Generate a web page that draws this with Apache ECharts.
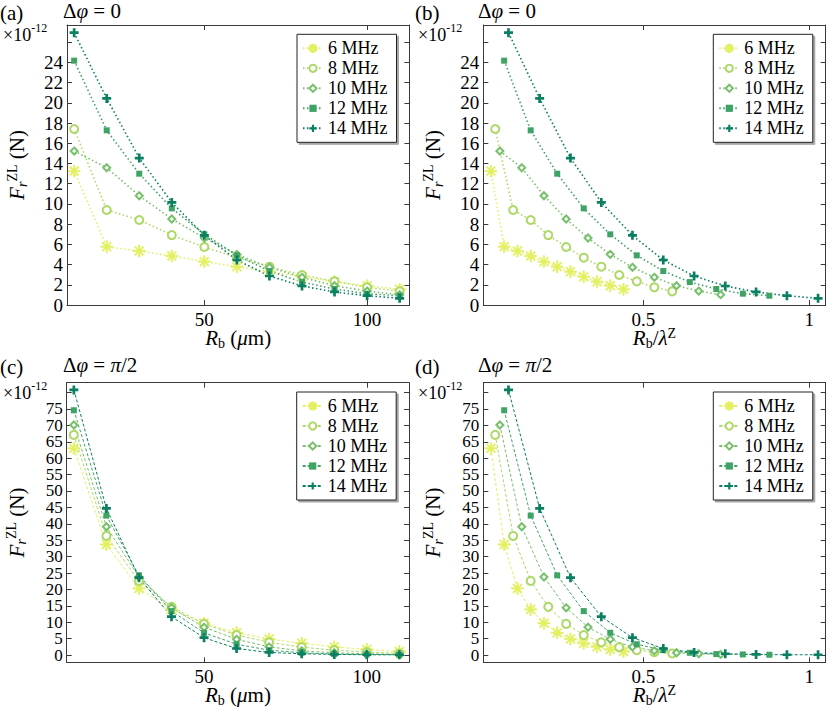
<!DOCTYPE html>
<html>
<head>
<meta charset="utf-8">
<script src="https://cdn.jsdelivr.net/npm/echarts@6/dist/echarts.min.js"></script>
<style>
html, body { margin:0; padding:0; background:#fff; }
.panel { position:absolute; width:415px; height:354px; }
</style>
</head>
<body>
<div id="pa" class="panel" style="left:0;top:0"></div>
<div id="pb" class="panel" style="left:415px;top:0"></div>
<div id="pc" class="panel" style="left:0;top:354px"></div>
<div id="pd" class="panel" style="left:415px;top:354px"></div>
<script>

// ==============================
// 資料
// ==============================

const radii = [10, 20, 30, 40, 50, 60, 70, 80, 90, 100, 110];

const freqNames = ['6 MHz', '8 MHz', '10 MHz', '12 MHz', '14 MHz'];

// Rb / λ for each frequency
const ratio6  = [0.040, 0.080, 0.120, 0.160, 0.200, 0.240, 0.280, 0.320, 0.360, 0.400, 0.440];
const ratio8  = [0.053, 0.107, 0.160, 0.213, 0.267, 0.320, 0.373, 0.427, 0.480, 0.533, 0.587];
const ratio10 = [0.067, 0.133, 0.200, 0.267, 0.333, 0.400, 0.467, 0.533, 0.600, 0.667, 0.733];
const ratio12 = [0.080, 0.160, 0.240, 0.320, 0.400, 0.480, 0.560, 0.640, 0.720, 0.800, 0.880];
const ratio14 = [0.093, 0.187, 0.280, 0.373, 0.467, 0.560, 0.653, 0.747, 0.840, 0.933, 1.027];

// Δφ = 0 (×1e-12 N)
const zero6  = [13.25, 5.77, 5.34, 4.85, 4.29, 3.79, 3.30, 2.80, 2.31, 1.91, 1.55];
const zero8  = [17.41, 9.40, 8.41, 6.92, 5.74, 4.68, 3.79, 2.97, 2.34, 1.75, 1.35];
const zero10 = [15.23, 13.58, 10.81, 8.51, 6.63, 5.01, 3.73, 2.74, 1.91, 1.38, 1.02];
const zero12 = [24.17, 17.28, 12.99, 9.56, 6.99, 4.91, 3.36, 2.27, 1.58, 1.12, 0.92];
const zero14 = [26.94, 20.44, 14.54, 10.15, 6.89, 4.45, 2.87, 1.88, 1.29, 0.92, 0.66];

// Δφ = π/2 (×1e-12 N)
const half6  = [63.0, 33.7, 20.3, 13.9, 9.7, 6.8, 4.9, 3.6, 2.5, 1.7, 1.1];
const half8  = [67.1, 36.3, 22.6, 14.7, 9.5, 6.1, 3.9, 2.4, 1.5, 0.9, 0.5];
const half10 = [70.1, 39.1, 23.8, 14.4, 8.5, 4.8, 2.5, 1.3, 0.7, 0.4, 0.2];
const half12 = [74.6, 42.5, 24.3, 13.4, 6.8, 3.3, 1.5, 0.7, 0.3, 0.2, 0.1];
const half14 = [80.8, 44.7, 23.6, 11.7, 5.3, 2.0, 0.8, 0.4, 0.2, 0.1, 0.1];

// ticks and tick labels (labels split in two sets so none get auto-hidden)
const zeroTicks     = [0, 2, 4, 6, 8, 10, 12, 14, 16, 18, 20, 22, 24, 26];
const zeroLabelsA   = [0, 4, 8, 12, 16, 20, 24];
const zeroLabelsB   = [2, 6, 10, 14, 18, 22];
const halfTicks     = [0, 5, 10, 15, 20, 25, 30, 35, 40, 45, 50, 55, 60, 65, 70, 75, 80];
const halfLabelsA   = [0, 10, 20, 30, 40, 50, 60, 70];
const halfLabelsB   = [5, 15, 25, 35, 45, 55, 65, 75];
const radiusTicks   = [50, 100];
const ratioTicks    = [0.5, 1];


// ==============================
// 樣式
// ==============================

const serif = 'Liberation Serif';

const colors = ['#e2f062', '#aed868', '#78c06c', '#3ea364', '#0a7f62'];

const asterisk =
    'path://M8.9,0h2.2v20h-2.2z M0,8.9h20v2.2h-20z ' +
    'M3.7,2.1L17.9,16.3L16.3,17.9L2.1,3.7z M16.3,2.1L17.9,3.7L3.7,17.9L2.1,16.3z';

const plus = 'path://M7,0h6v7h7v6h-7v7h-6v-7h-7v-6h7z';

const symbols = [asterisk, 'emptyCircle', 'emptyDiamond', 'rect', plus];
const symbolSizes = [12, 8, 7, 6, 9];
const borderWidths = [0.7, 1.2, 1, 0, 0];

const rich = {
    t:   { fontFamily: serif, fontSize: 21, color: '#000', lineHeight: 24 },
    i:   { fontFamily: serif, fontSize: 21, color: '#000', lineHeight: 24, fontStyle: 'italic' },
    sub: { fontFamily: serif, fontSize: 14, color: '#000', lineHeight: 14, verticalAlign: 'bottom' },
    sup: { fontFamily: serif, fontSize: 14, color: '#000', lineHeight: 14, verticalAlign: 'top' },
    sit: { fontFamily: serif, fontSize: 14, color: '#000', lineHeight: 14, verticalAlign: 'bottom', fontStyle: 'italic' }
};


// ==============================
// 面板
// ==============================

renderPanel('pa', {
    tag: '(a)', phase: '{t|Δ}{i|φ}{t| = 0}',
    xs: [radii, radii, radii, radii, radii],
    ys: [zero6, zero8, zero10, zero12, zero14],
    xMin: 7.8, xMax: 113, xTicks: radiusTicks,
    yMin: 0, yMax: 27.7, yTicks: zeroTicks, yLabels: [zeroLabelsA, zeroLabelsB],
    yFont: 19, yLine: 19,
    xName: '{i|R}{sub|b}{t| (}{i|μ}{t|m)}',
    gridLeft: 67, gridTop: 25, gridHeight: 280,
    lineType: [1.5, 2.5], lineWidth: 1.6
});

renderPanel('pb', {
    tag: '(b)', phase: '{t|Δ}{i|φ}{t| = 0}',
    xs: [ratio6, ratio8, ratio10, ratio12, ratio14],
    ys: [zero6, zero8, zero10, zero12, zero14],
    xMin: 0.017, xMax: 1.05, xTicks: ratioTicks,
    yMin: 0, yMax: 27.7, yTicks: zeroTicks, yLabels: [zeroLabelsA, zeroLabelsB],
    yFont: 19, yLine: 19,
    xName: '{i|R}{sub|b}{t|/}{i|λ}{sup|Z}',
    gridLeft: 68.3, gridTop: 25, gridHeight: 280,
    lineType: [1.5, 2.5], lineWidth: 1.6
});

renderPanel('pc', {
    tag: '(c)', phase: '{t|Δ}{i|φ}{t| = }{i|π}{t|/2}',
    xs: [radii, radii, radii, radii, radii],
    ys: [half6, half8, half10, half12, half14],
    xMin: 7.8, xMax: 113, xTicks: radiusTicks,
    yMin: -2.2, yMax: 83, yTicks: halfTicks, yLabels: [halfLabelsA, halfLabelsB],
    yFont: 17, yLine: 15,
    xName: '{i|R}{sub|b}{t| (}{i|μ}{t|m)}',
    gridLeft: 66.7, gridTop: 28.7, gridHeight: 279.6,
    lineType: [3, 2], lineWidth: 1
});

renderPanel('pd', {
    tag: '(d)', phase: '{t|Δ}{i|φ}{t| = }{i|π}{t|/2}',
    xs: [ratio6, ratio8, ratio10, ratio12, ratio14],
    ys: [half6, half8, half10, half12, half14],
    xMin: 0.017, xMax: 1.05, xTicks: ratioTicks,
    yMin: -2.2, yMax: 83, yTicks: halfTicks, yLabels: [halfLabelsA, halfLabelsB],
    yFont: 17, yLine: 15,
    xName: '{i|R}{sub|b}{t|/}{i|λ}{sup|Z}',
    gridLeft: 68.3, gridTop: 28.7, gridHeight: 279.6,
    lineType: [3, 2], lineWidth: 1
});


// ==============================
// 繪圖
// ==============================

function renderPanel(id, cfg){

    const chart = echarts.init(document.getElementById(id), null, { renderer: 'svg' });

    const axisColor = '#3a3a3a';

    const tickFont = { fontFamily: serif, fontSize: 19, color: '#000' };

    const yFont = { fontFamily: serif, fontSize: cfg.yFont, lineHeight: cfg.yLine, color: '#000' };

    const series = freqNames.map((name, i) => ({
        name: name,
        type: 'line',
        data: cfg.xs[i].map((x, j) => [x, cfg.ys[i][j]]),
        symbol: symbols[i],
        symbolSize: symbolSizes[i],
        showAllSymbol: true,
        itemStyle: { color: colors[i], borderColor: colors[i], borderWidth: borderWidths[i] },
        lineStyle: { color: colors[i], width: cfg.lineWidth, type: cfg.lineType },
        emphasis: { disabled: true },
        animation: false
    }));

    const xBase = {
        type: 'value', min: cfg.xMin, max: cfg.xMax,
        axisLine: { show: true, onZero: false, lineStyle: { color: axisColor, width: 1 } },
        axisTick: { show: true, inside: true, length: 5, customValues: cfg.xTicks, lineStyle: { color: axisColor } },
        splitLine: { show: false }
    };

    const yBase = {
        type: 'value', min: cfg.yMin, max: cfg.yMax,
        axisLine: { show: true, onZero: false, lineStyle: { color: axisColor, width: 1 } },
        axisTick: { show: true, inside: true, length: 5, customValues: cfg.yTicks, lineStyle: { color: axisColor } },
        splitLine: { show: false }
    };

    // second left axis only carries the other half of the tick labels
    const yLabelOnly = {
        type: 'value', min: cfg.yMin, max: cfg.yMax, position: 'left',
        axisLine: { show: false, onZero: false },
        axisTick: { show: false },
        splitLine: { show: false },
        axisLabel: Object.assign({
            customValues: cfg.yLabels[1], margin: 4,
            showMinLabel: true, showMaxLabel: true, hideOverlap: false
        }, yFont)
    };

    chart.setOption({

        backgroundColor: 'transparent',

        animation: false,

        grid: {
            left: cfg.gridLeft, top: cfg.gridTop,
            width: 342.4, height: cfg.gridHeight,
            containLabel: false,
            outerBoundsMode: 'none'
        },

        xAxis: [
            Object.assign({}, xBase, {
                position: 'bottom',
                axisLabel: Object.assign({
                    customValues: cfg.xTicks, margin: 5,
                    showMinLabel: true, showMaxLabel: true
                }, tickFont),
                name: cfg.xName, nameLocation: 'middle', nameGap: 21,
                nameMoveOverlap: false,
                nameTextStyle: { rich: rich }
            }),
            Object.assign({}, xBase, { position: 'top', axisLabel: { show: false } })
        ],

        yAxis: [
            Object.assign({}, yBase, {
                position: 'left',
                axisLabel: Object.assign({
                    customValues: cfg.yLabels[0], margin: 4,
                    showMinLabel: true, showMaxLabel: true, hideOverlap: false
                }, yFont),
                name: '{i|F}{sit|r}{sup|ZL}{t| (N)}', nameLocation: 'middle',
                nameRotate: 90, nameGap: 38,
                nameMoveOverlap: false,
                nameTextStyle: { rich: rich }
            }),
            Object.assign({}, yBase, { position: 'right', axisLabel: { show: false } }),
            yLabelOnly
        ],

        legend: {
            orient: 'vertical',
            left: cfg.gridLeft + 230, top: cfg.gridTop + 9.3,
            data: freqNames,
            itemWidth: 20, itemHeight: 9, itemGap: 2,
            padding: [5, 9, 5, 5],
            backgroundColor: '#fff',
            borderColor: '#222', borderWidth: 1,
            shadowColor: 'rgba(0,0,0,0.35)', shadowBlur: 1,
            shadowOffsetX: 2, shadowOffsetY: 2,
            textStyle: { fontFamily: serif, fontSize: 18, lineHeight: 18, color: '#000' },
            selectedMode: false
        },

        graphic: [
            {
                type: 'text', left: 0, top: 2,
                style: { text: cfg.tag, font: '21px ' + serif, fill: '#000' }
            },
            {
                type: 'text', left: 63, top: 0,
                style: { text: cfg.phase, rich: rich }
            },
            {
                type: 'text', left: 3, top: cfg.gridTop - 3,
                style: {
                    text: '{n|×10}{s|-12}',
                    rich: {
                        n: { fontFamily: serif, fontSize: 18, color: '#000', lineHeight: 22, verticalAlign: 'bottom' },
                        s: { fontFamily: serif, fontSize: 12, color: '#000', lineHeight: 12, verticalAlign: 'top' }
                    }
                }
            }
        ],

        series: series

    });

}

</script>
</body>
</html>
